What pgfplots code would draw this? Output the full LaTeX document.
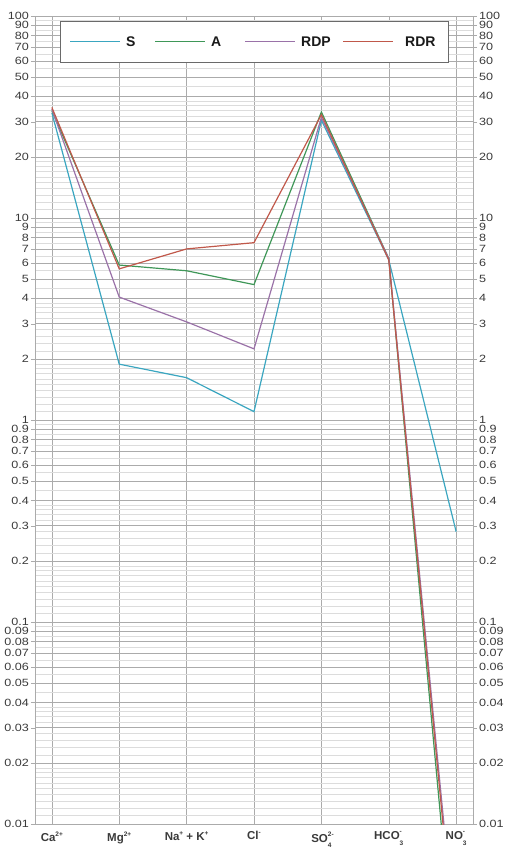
\documentclass[border=0pt]{standalone}
\usepackage{pgfplots}
\pgfplotsset{compat=1.18}
\usepackage{fontspec}
\setmainfont{Liberation Sans}

\definecolor{cS}{HTML}{3AA6C0}
\definecolor{cA}{HTML}{3F9758}
\definecolor{cRDP}{HTML}{9A72A8}
\definecolor{cRDR}{HTML}{C0584A}
\definecolor{majgrid}{HTML}{ABABAB}
\definecolor{mingrid}{HTML}{DCDCDC}
\definecolor{ticktext}{HTML}{3A3A3A}
\definecolor{legframe}{HTML}{6A6A6A}

% shared frame for the left and right logarithmic scales
\pgfplotsset{
  ionframe/.style={
    scale only axis,
    width=438pt, height=808pt,
    at={(0pt,0pt)}, anchor=south west,
    xmin=-0.25, xmax=6.25,
    ymin=0.01, ymax=100,
    ytick={0.01,0.02,0.03,0.04,0.05,0.06,0.07,0.08,0.09,
           0.1,0.2,0.3,0.4,0.5,0.6,0.7,0.8,0.9,
           1,2,3,4,5,6,7,8,9,
           10,20,30,40,50,60,70,80,90,100},
    yticklabels={0.01,0.02,0.03,0.04,0.05,0.06,0.07,0.08,0.09,
           0.1,0.2,0.3,0.4,0.5,0.6,0.7,0.8,0.9,
           1,2,3,4,5,6,7,8,9,
           10,20,30,40,50,60,70,80,90,100},
    yticklabel style={font=\fontsize{10.5}{10.5}\selectfont, text=ticktext,
                      xscale=1.2, inner xsep=1.5pt},
    tick align=outside,
    major tick length=4pt,
    minor tick length=0pt,
  },
}

% bold ion label with a charge above and a count below
\newcommand\ion[3]{#1\rlap{\raisebox{1.05ex}{\fontsize{6.5}{7}\selectfont #3}}\raisebox{-0.85ex}{\fontsize{6.5}{7}\selectfont #2}}
\newcommand\chg[2]{#1\raisebox{0.9ex}{\fontsize{6.5}{7}\selectfont #2}}

% one key entry: sample line from x1 to x2 and its name, at height y (axis fractions)
\newcommand\keyentry[5]{%
  \draw[draw=#1, line width=1.2pt] (rel axis cs:#2,#4) -- (rel axis cs:#3,#4);
  \node[anchor=west, inner sep=0pt, text=black!90,
        font=\bfseries\fontsize{14}{16}\selectfont]
       at (rel axis cs:#3,#4) {\hspace{6pt}#5};}

\begin{document}
\begin{tikzpicture}
\useasboundingbox (-35pt,-24pt) rectangle (470pt,824pt);
\clip (-35pt,-24pt) rectangle (470pt,824pt);

% right-hand copy of the concentration scale
\begin{semilogyaxis}[
  ionframe,
  axis y line*=right,
  axis x line=none,
  ytick pos=right,
  yticklabel pos=right,
  y axis line style={majgrid},
  ytick style={majgrid},
]
\end{semilogyaxis}

\begin{semilogyaxis}[
  ionframe,
  ytick pos=left,
  y axis line style={majgrid},
  x axis line style={majgrid},
  ytick style={majgrid},
  xtick={0,1,2,3,4,5,6},
  xticklabels={\chg{Ca}{2+},
               \chg{Mg}{2+},
               \chg{Na}{+} + \chg{K}{+},
               \chg{Cl}{-},
               \ion{SO}{4}{2-},
               \ion{HCO}{3}{-},
               \ion{NO}{3}{-}},
  xticklabel style={font=\bfseries\fontsize{11.5}{12}\selectfont, text=ticktext},
  xtick style={draw=none},
  xmajorgrids, ymajorgrids, yminorgrids,
  major grid style={majgrid, line width=0.5pt},
  minor grid style={mingrid, line width=0.4pt},
  minor ytick={0.011,0.012,0.013,0.014,0.015,0.016,0.017,0.018,0.019,
               0.022,0.024,0.026,0.028,0.032,0.034,0.036,0.038,
               0.045,0.055,0.065,0.075,0.085,0.095,
               0.11,0.12,0.13,0.14,0.15,0.16,0.17,0.18,0.19,
               0.22,0.24,0.26,0.28,0.32,0.34,0.36,0.38,
               0.45,0.55,0.65,0.75,0.85,0.95,
               1.1,1.2,1.3,1.4,1.5,1.6,1.7,1.8,1.9,
               2.2,2.4,2.6,2.8,3.2,3.4,3.6,3.8,
               4.5,5.5,6.5,7.5,8.5,9.5,
               11,12,13,14,15,16,17,18,19,
               22,24,26,28,32,34,36,38,
               45,55,65,75,85,95},
]
\addplot[color=cS, line width=1.2pt] coordinates {(0,33.2) (1,1.89) (2,1.62) (3,1.10) (4,30.5) (5,6.2) (6,0.28)};
\addplot[color=cA, line width=1.2pt] coordinates {(0,34.0) (1,5.85) (2,5.48) (3,4.68) (4,33.5) (5,6.3) (6,0.0016)};
\addplot[color=cRDP, line width=1.2pt] coordinates {(0,34.6) (1,4.06) (2,3.06) (3,2.25) (4,31.5) (5,6.3) (6,0.0024)};
\addplot[color=cRDR, line width=1.2pt] coordinates {(0,35.3) (1,5.6) (2,7.03) (3,7.55) (4,32.5) (5,6.2) (6,0.0021)};

% key box across the top of the plot
\draw[draw=legframe, fill=white, line width=0.7pt]
  (rel axis cs:0.057,0.9938) rectangle (rel axis cs:0.943,0.943);
\keyentry{cS}{0.080}{0.194}{0.9685}{S}
\keyentry{cA}{0.274}{0.388}{0.9685}{A}
\keyentry{cRDP}{0.4795}{0.5936}{0.9685}{RDP}
\keyentry{cRDR}{0.7032}{0.8174}{0.9685}{\hspace{6pt}RDR}
\end{semilogyaxis}
\end{tikzpicture}
\end{document}
